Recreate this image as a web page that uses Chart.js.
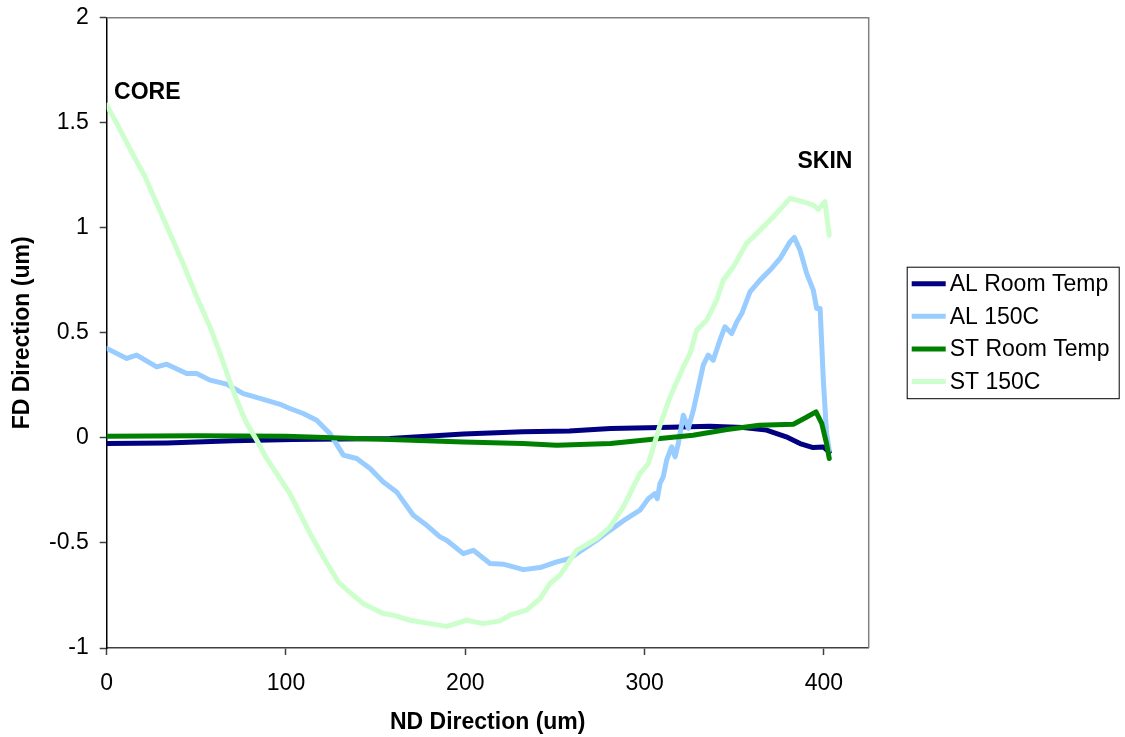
<!DOCTYPE html>
<html><head><meta charset="utf-8">
<script src="https://cdn.jsdelivr.net/npm/chart.js@4.4.1/dist/chart.umd.min.js"></script>
<style>html,body{margin:0;padding:0;background:#fff;} #wrap{width:1125px;height:737px;}</style>
</head><body><div id="wrap"><canvas id="c" width="1125" height="737"></canvas></div>
<script>
const seriesNames = ['AL Room Temp', 'AL 150C', 'ST Room Temp', 'ST 150C'];
const seriesColors = ['#000080', '#99CCFF', '#008000', '#CCFFCC'];

const alRoomX = [0, 33.5, 70.6, 104, 158, 199, 232, 258, 281, 308.6, 336.5, 355, 368, 379, 386.7, 394, 399.7, 403];
const alRoomY = [-0.027, -0.024, -0.014, -0.008, -0.003, 0.018, 0.029, 0.033, 0.045, 0.050, 0.056, 0.050, 0.037, 0.005, -0.027, -0.046, -0.043, -0.067];

const al150X = [0, 11.2, 16.7, 27.9, 33.5, 44.6, 50.2, 57.6, 66.9, 76.2, 85.5, 96.7, 102.2, 109.6, 117.1, 124.5, 132.0, 139.4, 146.9, 154.3, 161.7, 171.0, 178.5, 185.9, 189.6, 198.9, 204.5, 213.8, 221.2, 232.4, 241.7, 251.0, 258.4, 262.1, 273.3, 280.7, 290.0, 297.4, 302.1, 305.8, 307.1, 308.6, 310.4, 312.3, 315.1, 317.0, 318.8, 321.6, 324.4, 327.2, 330.9, 332.7, 335.5, 338.3, 342.0, 344.8, 348.6, 351.4, 354.2, 358.8, 364.4, 370.0, 375.6, 381.1, 383.5, 386.7, 390.4, 394.1, 396.0, 397.9, 399.7, 401.5, 403.0];
const al150Y = [0.426, 0.378, 0.394, 0.338, 0.351, 0.307, 0.307, 0.275, 0.256, 0.211, 0.188, 0.160, 0.140, 0.116, 0.084, 0.021, -0.082, -0.098, -0.146, -0.210, -0.257, -0.368, -0.416, -0.471, -0.487, -0.551, -0.535, -0.598, -0.601, -0.627, -0.617, -0.590, -0.574, -0.551, -0.487, -0.440, -0.384, -0.344, -0.289, -0.265, -0.289, -0.217, -0.186, -0.106, -0.043, -0.090, -0.027, 0.108, 0.045, 0.132, 0.275, 0.346, 0.394, 0.370, 0.465, 0.529, 0.497, 0.552, 0.592, 0.695, 0.751, 0.799, 0.854, 0.933, 0.954, 0.894, 0.783, 0.703, 0.616, 0.616, 0.275, 0.021, -0.059];

const stRoomX = [0, 50, 100, 130, 158, 199, 232, 251, 281, 308.6, 327, 346, 364, 383, 390, 395.6, 398.8, 401.5, 403];
const stRoomY = [0.008, 0.010, 0.008, 0.0, -0.008, -0.019, -0.027, -0.035, -0.027, -0.003, 0.013, 0.040, 0.060, 0.065, 0.097, 0.124, 0.069, -0.027, -0.098];

const st150X = [0, 5.6, 14.8, 21.4, 27.9, 35.3, 41.8, 50.2, 57.6, 63.2, 67.8, 72.5, 78.1, 83.7, 89.2, 102.2, 113.4, 120.8, 129.2, 137.5, 143.1, 154.3, 159.9, 169.2, 180.3, 189.6, 200.8, 210.0, 219.3, 224.9, 234.2, 241.7, 247.2, 252.8, 258.4, 262.1, 273.3, 280.7, 288.1, 297.4, 302.1, 308.6, 314.2, 321.6, 325.4, 329.1, 334.6, 340.2, 343.9, 349.5, 356.9, 364.4, 371.8, 381.1, 388.5, 394.1, 396.9, 400.6, 403.0];
const st150Y = [1.584, 1.497, 1.346, 1.243, 1.116, 0.973, 0.846, 0.671, 0.529, 0.402, 0.290, 0.180, 0.069, -0.011, -0.098, -0.265, -0.455, -0.567, -0.686, -0.749, -0.789, -0.836, -0.844, -0.868, -0.884, -0.897, -0.868, -0.884, -0.871, -0.844, -0.820, -0.765, -0.693, -0.654, -0.582, -0.535, -0.479, -0.424, -0.329, -0.170, -0.122, 0.060, 0.195, 0.338, 0.402, 0.513, 0.560, 0.656, 0.751, 0.814, 0.926, 0.989, 1.052, 1.140, 1.124, 1.108, 1.088, 1.124, 0.965];

const xAxisMin = 0, xAxisMax = 425, xStep = 100;
const yAxisMin = -1, yAxisMax = 2, yStep = 0.5;
const xTitle = 'ND Direction (um)';
const yTitle = 'FD Direction (um)';
const noteTexts = ['CORE', 'SKIN'];
const notePosX = [4.1, 385.3];
const notePosY = [1.644, 1.314];

const FONT = "'Liberation Sans', Arial, Helvetica, sans-serif";
const allX = [alRoomX, al150X, stRoomX, st150X];
const allY = [alRoomY, al150Y, stRoomY, st150Y];
const drawOrder = [4, 3, 2, 1];

const datasets = seriesNames.map((name, i) => ({
  label: name,
  data: allX[i].map((x, j) => ({x: x, y: allY[i][j]})),
  showLine: true,
  borderColor: seriesColors[i],
  backgroundColor: seriesColors[i],
  borderWidth: 5,
  pointRadius: 0,
  tension: 0,
  borderJoinStyle: 'round',
  borderCapStyle: 'round',
  order: drawOrder[i]
}));

const framePlugin = {
  id: 'frame',
  beforeDatasetsDraw(chart) {
    const c = chart.ctx, a = chart.chartArea;
    c.save();
    c.strokeStyle = '#808080';
    c.lineWidth = 1.5;
    c.beginPath();
    c.moveTo(a.left, a.top);
    c.lineTo(a.right, a.top);
    c.lineTo(a.right, a.bottom);
    c.stroke();
    c.restore();
  },
  afterDraw(chart) {
    const c = chart.ctx, a = chart.chartArea;
    const xs = chart.scales.x, ys = chart.scales.y;
    c.save();
    c.fillStyle = '#000';
    c.font = 'bold 23px ' + FONT;
    c.textBaseline = 'middle';
    c.textAlign = 'left';
    noteTexts.forEach((t, i) => {
      c.fillText(t, xs.getPixelForValue(notePosX[i]), ys.getPixelForValue(notePosY[i]));
    });
    const bx = a.right + 38, by = a.top + 249, bw = 212, bh = 131.5;
    c.fillStyle = '#fff';
    c.fillRect(bx, by, bw, bh);
    c.strokeStyle = '#000';
    c.lineWidth = 1;
    c.strokeRect(bx + 0.5, by + 0.5, bw, bh);
    c.font = '23px ' + FONT;
    chart.data.datasets.forEach((ds, i) => {
      const y = by + 17 + i * 32.6;
      c.strokeStyle = ds.borderColor;
      c.lineWidth = 5;
      c.lineCap = 'butt';
      c.beginPath();
      c.moveTo(bx + 5, y);
      c.lineTo(bx + 39, y);
      c.stroke();
      c.fillStyle = '#000';
      c.fillText(ds.label, bx + 43, y + 1);
    });
    c.restore();
  }
};

new Chart(document.getElementById('c'), {
  type: 'scatter',
  data: { datasets: datasets },
  plugins: [framePlugin],
  options: {
    responsive: false,
    animation: false,
    layout: { padding: { left: 0, top: 17.7, right: 256.3, bottom: 0 } },
    plugins: { legend: { display: false }, tooltip: { enabled: false } },
    scales: {
      x: {
        type: 'linear', min: xAxisMin, max: xAxisMax,
        ticks: { stepSize: xStep, includeBounds: false, color: '#000', padding: 15,
          font: { family: FONT, size: 23 }, callback: v => String(v) },
        grid: { drawOnChartArea: false, tickLength: 7, color: '#404040', tickColor: '#404040', tickWidth: 1.5 },
        border: { display: true, color: '#404040', width: 1.5 },
        title: { display: true, text: xTitle, color: '#000', font: { family: FONT, size: 23, weight: 'bold' }, padding: { top: 0, bottom: 1 } },
        afterFit(s) { s.height = 89; s.paddingLeft = 0; s.paddingRight = 0; }
      },
      y: {
        type: 'linear', min: yAxisMin, max: yAxisMax,
        ticks: { stepSize: yStep, color: '#000', padding: 11,
          font: { family: FONT, size: 23 }, callback: v => String(v) },
        grid: { drawOnChartArea: false, tickLength: 7, color: '#404040', tickColor: '#404040', tickWidth: 1.5 },
        border: { display: true, color: '#000', width: 1.5 },
        title: { display: true, text: yTitle, color: '#000', font: { family: FONT, size: 23, weight: 'bold' }, padding: { top: 9, bottom: 0 } },
        afterFit(s) { s.width = 106.7; s.paddingTop = 0; s.paddingBottom = 0; }
      }
    }
  }
});
</script>
</body></html>
